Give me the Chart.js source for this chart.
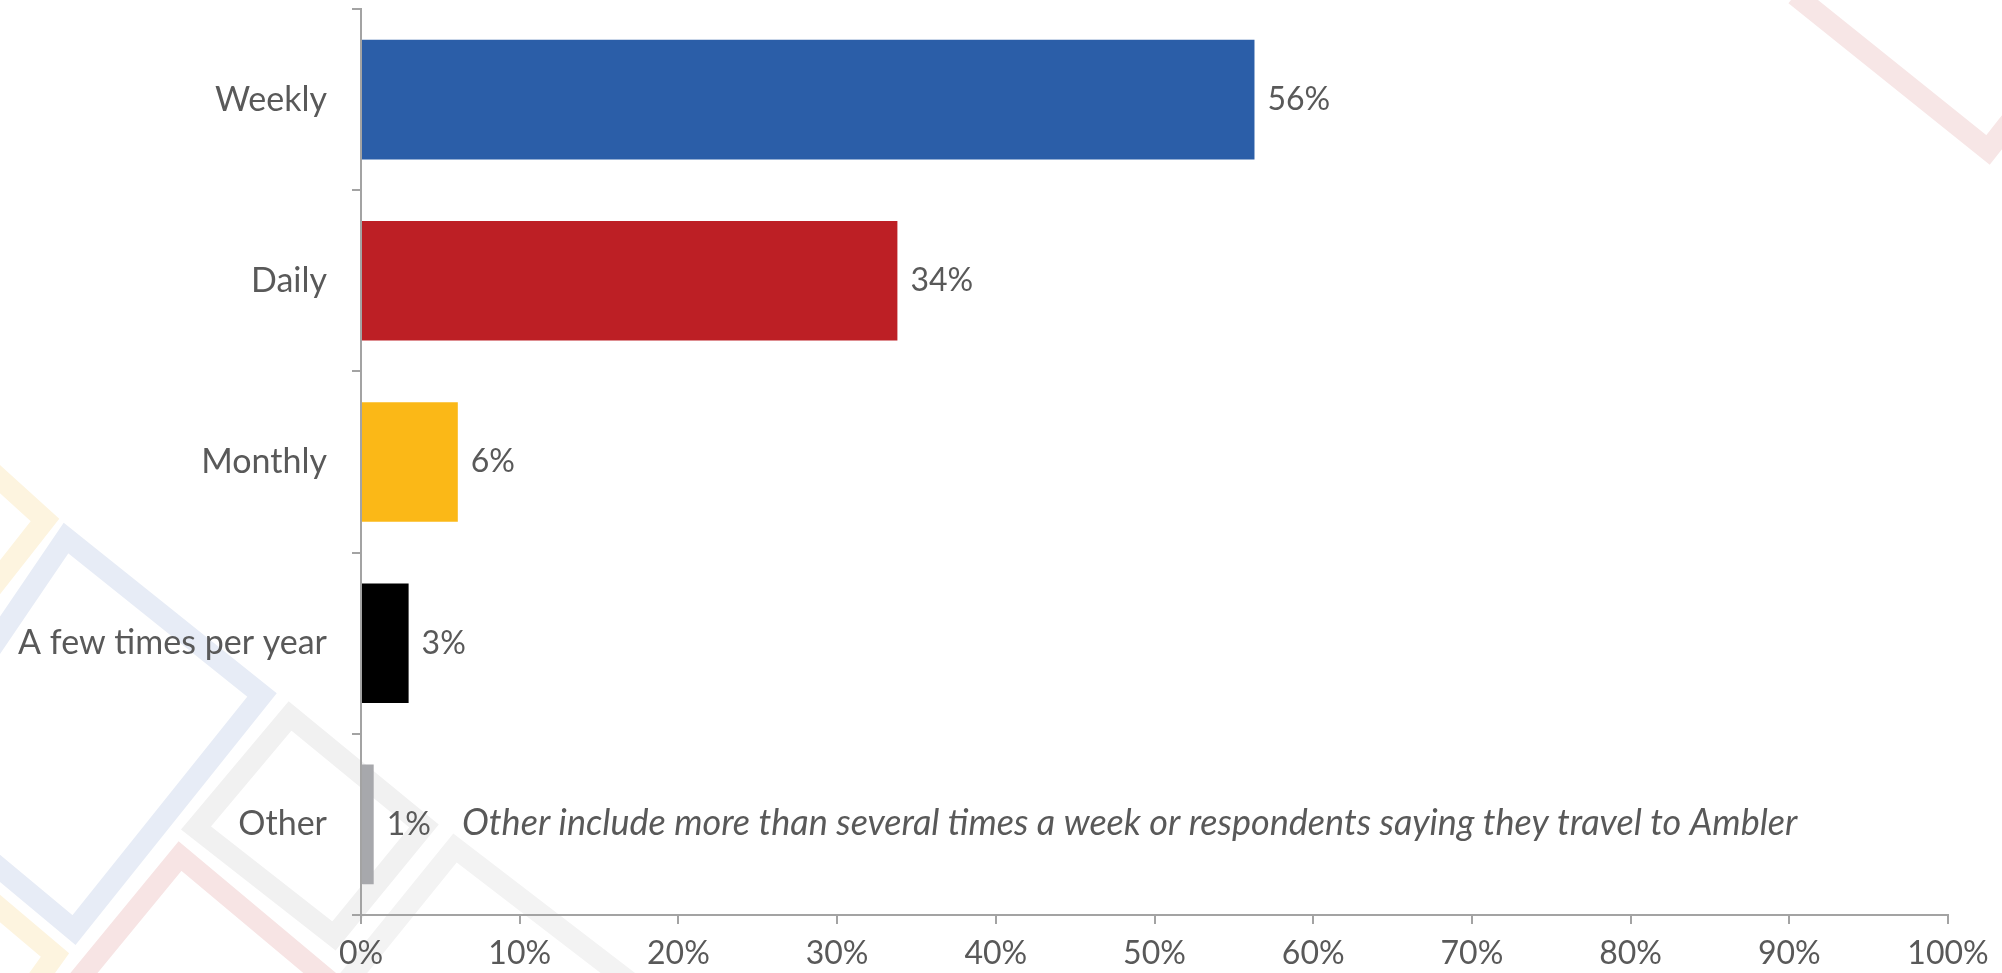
<!DOCTYPE html>
<html>
<head>
<meta charset="utf-8">
<script src="https://cdn.jsdelivr.net/npm/chart.js@4"></script>
<style>
  body { margin: 0; background: #fff; }
  #wrap { width: 2002px; height: 973px; position: relative; }
</style>
</head>
<body>
<div id="wrap"><canvas id="travelChart"></canvas></div>
<script>
// Data
const categories = ["Weekly", "Daily", "Monthly", "A few times per year", "Other"];
const shares = [56.3, 33.8, 6.1, 3.0, 0.8];
const barColors = ["#2b5ea8", "#bd1f25", "#fbb817", "#000000", "#a7a8ac"];
const xTicks = [0, 10, 20, 30, 40, 50, 60, 70, 80, 90, 100];
const noteText = "Other include more than several times a week or respondents saying they travel to Ambler";

const textColor = "#595959";
const axisColor = "#a3a3a3";
const fontFamily = "Lato, 'Open Sans', sans-serif";

// faint background outlines (decoration only)
const backdrop = {
  id: "backdrop",
  beforeDraw(chart) {
    const c = chart.ctx;
    c.save();
    c.lineWidth = 21;
    c.lineJoin = "miter";
    const line = (color, pts, close) => {
      c.strokeStyle = color;
      c.beginPath();
      c.moveTo(pts[0][0], pts[0][1]);
      for (let i = 1; i < pts.length; i++) c.lineTo(pts[i][0], pts[i][1]);
      if (close) c.closePath();
      c.stroke();
    };
    line("#fdf4df", [[-10, 470], [45, 520], [-10, 590]]);
    line("#fdf4df", [[-10, 900], [55, 955], [30, 990]]);
    line("#e7ecf6", [[-10, 650], [66, 538], [262, 695], [74, 930], [-10, 860]]);
    line("#f1f1f1", [[196, 828], [290, 716], [424, 826], [334, 936]], true);
    line("#f3f3f3", [[340, 990], [455, 848], [640, 990]]);
    line("#f7e4e4", [[70, 990], [180, 856], [340, 990]]);
    line("#f7e6e6", [[1795, -5], [1988, 150], [2010, 122]]);
    c.restore();
  }
};

// percentage labels next to bars + the footnote
const barLabels = {
  id: "barLabels",
  afterDatasetsDraw(chart) {
    const c = chart.ctx;
    const meta = chart.getDatasetMeta(0);
    c.save();
    c.font = "32px " + fontFamily;
    c.fillStyle = textColor;
    c.textBaseline = "middle";
    c.textAlign = "left";
    meta.data.forEach((bar, i) => {
      c.fillText(Math.round(shares[i]) + "%", bar.x + 13, bar.y);
    });
    const last = meta.data[meta.data.length - 1];
    c.font = "italic 36px " + fontFamily;
    c.fillText(noteText, chart.scales.x.getPixelForValue(0) + 101, last.y - 1);
    c.restore();
  }
};

new Chart(document.getElementById("travelChart"), {
  type: "bar",
  data: {
    labels: categories,
    datasets: [{
      data: shares,
      backgroundColor: barColors,
      borderWidth: 0,
      categoryPercentage: 1,
      barPercentage: 0.66
    }]
  },
  options: {
    indexAxis: "y",
    responsive: true,
    maintainAspectRatio: false,
    animation: false,
    layout: { padding: { top: 9, right: 54, left: 0, bottom: 0 } },
    plugins: { legend: { display: false }, tooltip: { enabled: false } },
    scales: {
      x: {
        min: 0,
        max: 100,
        afterFit(scale) { scale.height = 58; },
        afterBuildTicks(scale) { scale.ticks = xTicks.map(v => ({ value: v })); },
        grid: { drawOnChartArea: false, tickLength: 9, color: axisColor, lineWidth: 2 },
        border: { color: axisColor, width: 2 },
        ticks: {
          color: textColor,
          padding: 10,
          font: { family: fontFamily, size: 32 },
          callback: v => v + "%"
        }
      },
      y: {
        afterFit(scale) {
          scale.width = 361;
          scale.paddingTop = 0;
          scale.paddingBottom = 0;
        },
        grid: { offset: true, drawOnChartArea: false, tickLength: 9, color: axisColor, lineWidth: 2 },
        border: { color: axisColor, width: 2 },
        ticks: {
          color: textColor,
          padding: 25,
          font: { family: fontFamily, size: 34 }
        }
      }
    }
  },
  plugins: [backdrop, barLabels]
});
</script>
</body>
</html>
